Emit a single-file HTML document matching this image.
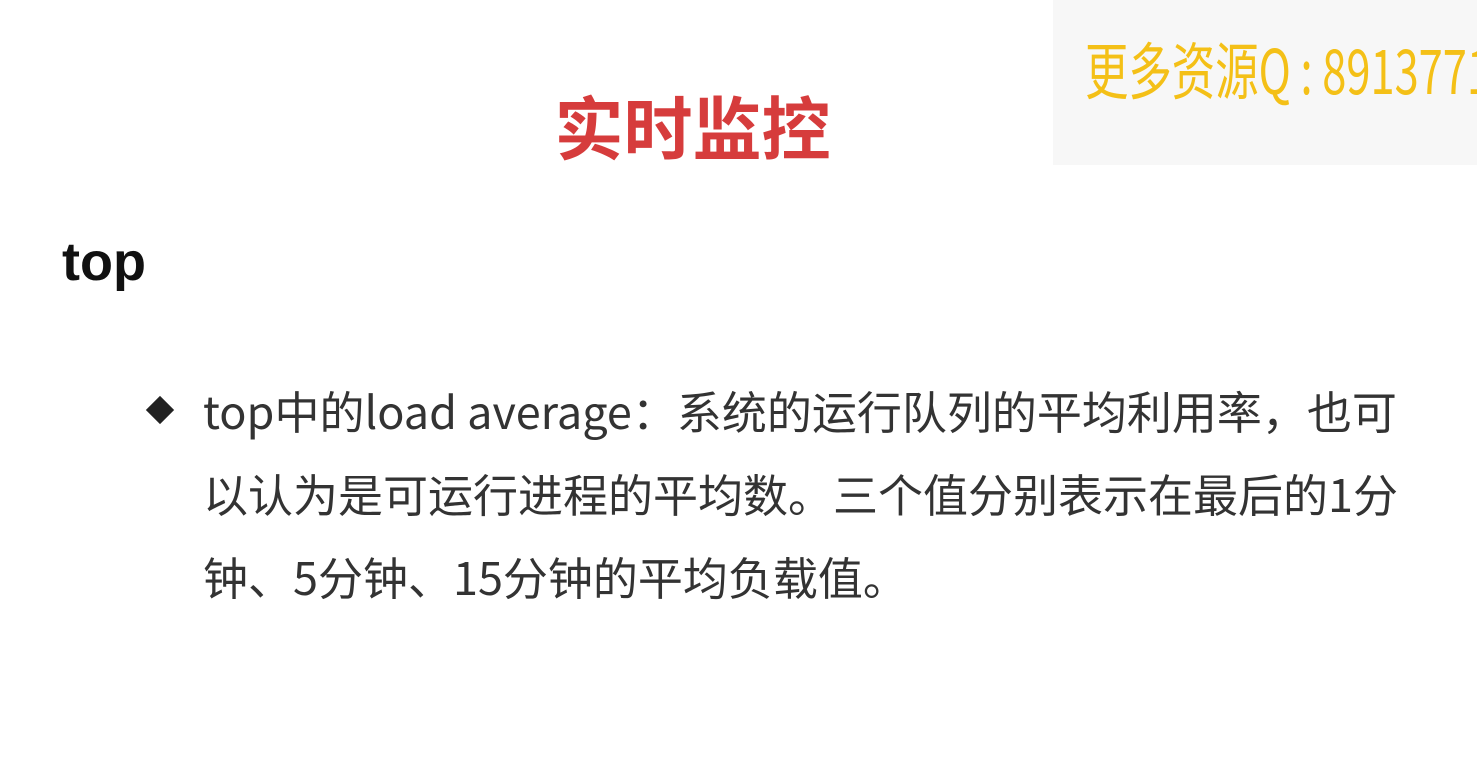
<!DOCTYPE html>
<html><head><meta charset="utf-8"><style>
html,body{margin:0;padding:0;width:1477px;height:779px;overflow:hidden;background:#fff;}
body{position:relative;font-family:"Liberation Sans","Noto Sans CJK SC",sans-serif;}
#wm{position:absolute;left:1053px;top:0;width:424px;height:165px;background:#f7f7f7;overflow:hidden;}
#wm span{position:absolute;left:32px;top:36px;font-size:62px;color:#f4c017;white-space:nowrap;transform:scaleX(0.7);transform-origin:left top;line-height:1;font-family:"Noto Sans CJK SC",sans-serif;}
#title{position:absolute;left:0;width:1385px;text-align:center;top:90px;font-size:69px;font-weight:bold;color:#d63c3c;line-height:1;font-family:"Noto Sans CJK SC",sans-serif;}
#h{position:absolute;left:62px;top:235px;font-size:54px;font-weight:bold;color:#111;line-height:1;}
#diamond{position:absolute;left:150px;top:400px;width:20px;height:20px;background:#222;transform:rotate(45deg);}
#body{position:absolute;left:203px;top:368px;font-size:45px;line-height:83px;color:#333;white-space:nowrap;font-family:"Noto Sans CJK SC",sans-serif;}
</style></head><body>
<div id="wm"><span>更多资源Q : 8913771</span></div>
<div id="title">实时监控</div>
<div id="h">top</div>
<div id="diamond"></div>
<div id="body">top中的load average：系统的运行队列的平均利用率，也可<br>以认为是可运行进程的平均数。三个值分别表示在最后的1分<br>钟、5分钟、15分钟的平均负载值。</div>
</body></html>
